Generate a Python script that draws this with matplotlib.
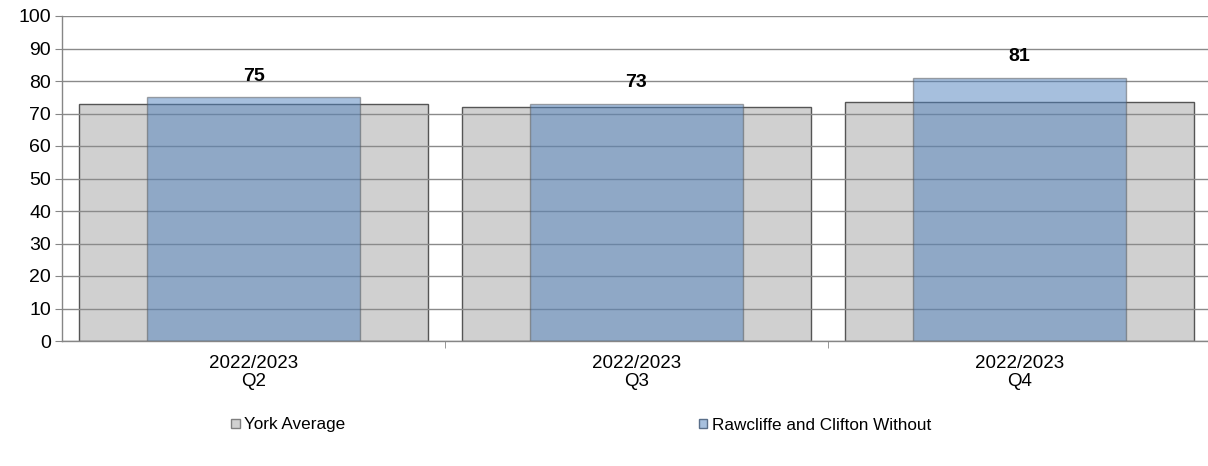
import matplotlib
matplotlib.use("Agg")
import matplotlib.pyplot as plt
from matplotlib.patches import Patch
import numpy as np

plt.rcParams['font.family'] = ['Liberation Sans', 'DejaVu Sans']

categories = ["2022/2023\nQ2", "2022/2023\nQ3", "2022/2023\nQ4"]
york_avg = [72.9, 72.0, 73.6]
rawcliffe = [75, 73, 81]
series_names = ["York Average", "Rawcliffe and Clifton Without"]

W, H = 1208, 466
fig = plt.figure(figsize=(W / 100, H / 100), dpi=100)
ax = fig.add_axes([62 / W, 1 - 341 / H, (1211 - 62) / W, (341 - 16) / H])

x = np.arange(len(categories))
gray_fill = "#d0d0d0"
blue = "#4F81BD"
edge = "#555555"

ax.bar(x, york_avg, width=0.91, color=gray_fill, edgecolor=edge, linewidth=1.0, zorder=2)
ax.bar(x, rawcliffe, width=0.557, color=blue, alpha=0.5, edgecolor=edge, linewidth=1.0, zorder=4)

for xi, v in zip(x, rawcliffe):
    ax.annotate(f"{v}", (xi, v), xytext=(0, 15), textcoords="offset points",
                ha="center", va="center", fontsize=14, fontweight="bold", zorder=6)

ax.set_xlim(-0.5, 2.5)
ax.set_ylim(0, 100)
ax.set_yticks(np.arange(0, 101, 10))
ax.yaxis.grid(True, color="#8a8a8a", linewidth=1.0, zorder=3)
ax.set_axisbelow(False)
for gl in ax.get_ygridlines():
    gl.set_zorder(3)

ax.set_xticks(x)
ax.set_xticklabels(categories, fontsize=13.5, linespacing=1.05)
ax.set_xticks([0.5, 1.5], minor=True)
ax.tick_params(axis="x", which="major", length=0, pad=10)
ax.tick_params(axis="x", which="minor", length=5, color="#868686")
ax.tick_params(axis="y", length=5, color="#868686", labelsize=14, pad=3)

for s in ["top", "right"]:
    ax.spines[s].set_visible(False)
for s in ["left", "bottom"]:
    ax.spines[s].set_color("#868686")
    ax.spines[s].set_linewidth(1.0)
    ax.spines[s].set_zorder(5)

handles = [Patch(facecolor=gray_fill, edgecolor="#7f7f7f", label=series_names[0]),
           Patch(facecolor="#a7c0de", edgecolor="#5a6f8a", label=series_names[1])]
fig.legend(handles=handles, loc="center", bbox_to_anchor=(581 / W, 1 - 425 / H),
           ncol=2, frameon=False, fontsize=12.3, handlelength=0.5, handleheight=0.5,
           handletextpad=0.25, columnspacing=20.7)

fig.savefig("out.png", dpi=100)
